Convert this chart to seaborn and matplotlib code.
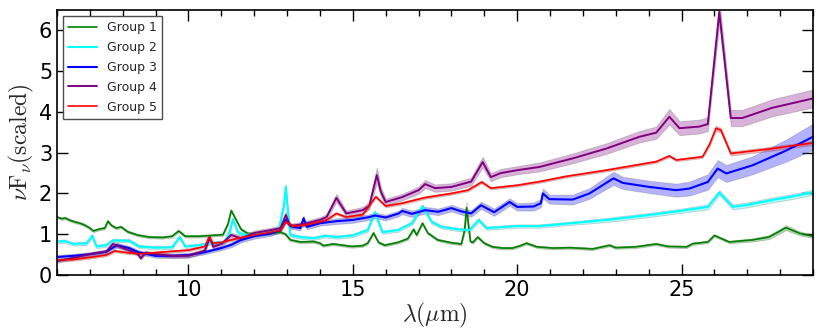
import numpy as np
import pandas as pd
import matplotlib
matplotlib.use("Agg")
import matplotlib.pyplot as plt
from matplotlib.ticker import MultipleLocator
import seaborn as sns

# ---- data ----
x_g1 = [6.0, 6.15, 6.24, 6.4, 6.55, 6.7, 6.85, 7.0, 7.1, 7.3, 7.45, 7.55, 7.65, 7.8, 7.95,
        8.15, 8.45, 8.8, 9.2, 9.5, 9.7, 9.9, 10.3, 10.7, 11.05, 11.2, 11.3, 11.45, 11.6, 11.8,
        12.2, 12.5, 12.8, 12.95, 13.1, 13.4, 13.8, 14.0, 14.1, 14.4, 14.6, 14.97, 15.3, 15.45,
        15.63, 15.78, 15.97, 16.37, 16.67, 16.85, 16.94, 17.12, 17.28, 17.58, 18.0, 18.3, 18.4,
        18.46, 18.52, 18.58, 18.65, 18.8, 19.0, 19.25, 19.55, 19.86, 20.1, 20.28, 20.6, 21.08,
        21.6, 22.3, 22.81, 23.0, 23.6, 24.23, 24.6, 25.15, 25.35, 25.8, 26.0, 26.45, 27.16,
        27.66, 28.18, 28.6, 29.0]
y_g1 = [1.42, 1.38, 1.40, 1.34, 1.30, 1.27, 1.22, 1.15, 1.08, 1.13, 1.15, 1.32, 1.22, 1.15, 1.18,
        1.06, 0.98, 0.93, 0.92, 0.95, 1.08, 0.95, 0.95, 0.97, 0.99, 1.25, 1.58, 1.35, 1.12, 1.02,
        1.00, 1.02, 1.05, 1.00, 0.86, 0.81, 0.82, 0.78, 0.72, 0.76, 0.74, 0.70, 0.72, 0.78,
        1.03, 0.80, 0.73, 0.80, 0.89, 1.12, 0.98, 1.27, 1.03, 0.86, 0.79, 0.76, 1.10,
        1.65, 1.20, 0.82, 0.80, 0.93, 0.78, 0.69, 0.66, 0.66, 0.72, 0.78, 0.69, 0.66,
        0.67, 0.64, 0.73, 0.67, 0.69, 0.76, 0.70, 0.69, 0.77, 0.81, 0.97, 0.81, 0.86,
        0.93, 1.16, 1.02, 0.95]
e_g1 = [0.03] * 56 + [0.08, 0.15, 0.08] + [0.03] * 23 + [0.04, 0.05, 0.06, 0.05, 0.04]

x_g2 = [6.0, 6.24, 6.5, 6.9, 7.07, 7.2, 7.5, 7.7, 8.2, 8.5, 9.0, 9.5, 9.73, 9.9, 10.3, 10.65,
        11.1, 11.25, 11.35, 11.5, 11.7, 12.0, 12.5, 12.75, 12.9, 12.96, 13.02, 13.1, 13.4,
        13.8, 14.15, 14.5, 15.0, 15.45, 15.67, 15.9, 16.37, 16.8, 17.12, 17.4, 17.7, 18.2,
        18.55, 18.83, 19.07, 20.0, 20.68, 21.5, 22.71, 24.0, 25.03, 25.8, 26.15, 26.56, 27.0,
        27.76, 28.4, 29.0]
y_g2 = [0.82, 0.83, 0.76, 0.78, 0.96, 0.70, 0.73, 0.85, 0.84, 0.70, 0.67, 0.68, 0.93, 0.70, 0.73, 0.78,
        0.81, 1.05, 1.37, 1.05, 0.98, 1.00, 1.05, 1.12, 1.70, 2.16, 1.60, 0.98, 0.93,
        0.90, 0.96, 0.93, 0.97, 1.10, 1.54, 1.05, 1.10, 1.27, 1.69, 1.30, 1.18, 1.12,
        1.10, 1.35, 1.15, 1.20, 1.20, 1.26, 1.35, 1.47, 1.58, 1.67, 2.02, 1.67, 1.72,
        1.84, 1.93, 2.03]
e_g2 = [0.04] * 24 + [0.06, 0.07, 0.06] + [0.04] * 21 + [0.05] * 3 + [0.06] * 7

x_g3 = [6.0, 6.5, 7.0, 7.5, 7.82, 8.2, 8.47, 9.0, 9.5, 10.0, 10.5, 11.0, 11.3, 11.6, 12.0, 12.5,
        12.8, 12.96, 13.1, 13.4, 13.5, 13.6, 14.0, 14.5, 15.0, 15.5, 15.67, 16.0, 16.4, 16.5,
        16.8, 17.2, 17.6, 18.0, 18.3, 18.6, 18.9, 19.3, 19.77, 20.0, 20.5, 20.72, 20.78, 20.98,
        21.69, 22.2, 22.93, 23.21, 24.02, 24.84, 25.24, 25.8, 26.1, 26.36, 27.16, 28.18, 29.0]
y_g3 = [0.44, 0.47, 0.51, 0.57, 0.73, 0.66, 0.56, 0.47, 0.47, 0.49, 0.56, 0.66, 0.74, 0.86, 0.95, 1.02,
        1.10, 1.35, 1.20, 1.15, 1.39, 1.18, 1.27, 1.32, 1.35, 1.42, 1.46, 1.41, 1.51, 1.57,
        1.50, 1.59, 1.55, 1.64, 1.56, 1.51, 1.71, 1.54, 1.79, 1.67, 1.68, 1.76, 2.00, 1.86,
        1.85, 2.00, 2.37, 2.26, 2.16, 2.08, 2.12, 2.28, 2.61, 2.49, 2.69, 3.05, 3.39]
e_g3 = [0.05, 0.05, 0.05, 0.05, 0.06, 0.05, 0.05, 0.05, 0.05, 0.05, 0.05, 0.05, 0.06, 0.06, 0.06, 0.06,
        0.06, 0.07, 0.06, 0.06, 0.07, 0.06, 0.06, 0.07, 0.07, 0.07, 0.07, 0.07, 0.07, 0.08,
        0.08, 0.08, 0.08, 0.08, 0.08, 0.08, 0.09, 0.09, 0.09, 0.09, 0.10, 0.10, 0.12, 0.11,
        0.12, 0.13, 0.16, 0.15, 0.15, 0.16, 0.17, 0.19, 0.21, 0.21, 0.22, 0.27, 0.32]

x_g4 = [6.0, 6.5, 7.0, 7.5, 7.7, 8.2, 8.45, 8.55, 8.7, 9.0, 9.5, 10.0, 10.5, 10.65, 10.75, 11.0,
        11.3, 11.6, 12.0, 12.5, 12.8, 12.96, 13.1, 13.5, 14.0, 14.2, 14.5, 14.8, 15.3, 15.5,
        15.73, 15.85, 16.0, 16.5, 17.0, 17.2, 17.5, 18.0, 18.6, 18.95, 19.2, 19.5, 20.0, 20.68,
        21.69, 22.71, 23.72, 24.23, 24.63, 24.94, 25.54, 25.8, 26.15, 26.5, 26.85, 27.76, 29.0]
y_g4 = [0.34, 0.42, 0.51, 0.58, 0.76, 0.60, 0.52, 0.41, 0.55, 0.51, 0.47, 0.47, 0.60, 0.92, 0.69, 0.76,
        0.98, 0.90, 1.03, 1.10, 1.15, 1.47, 1.20, 1.25, 1.35, 1.42, 1.89, 1.51, 1.59, 1.70,
        2.45, 2.05, 1.79, 1.91, 2.08, 2.23, 2.13, 2.16, 2.29, 2.77, 2.40, 2.50, 2.57, 2.65,
        2.86, 3.10, 3.39, 3.49, 3.88, 3.60, 3.64, 3.70, 6.45, 3.85, 3.85, 4.10, 4.33]
e_g4 = [0.04, 0.04, 0.04, 0.04, 0.05, 0.04, 0.04, 0.04, 0.04, 0.05, 0.05, 0.05, 0.05, 0.06, 0.05, 0.05,
        0.06, 0.06, 0.06, 0.06, 0.06, 0.08, 0.06, 0.06, 0.07, 0.07, 0.10, 0.07, 0.08, 0.09,
        0.18, 0.12, 0.08, 0.08, 0.09, 0.10, 0.09, 0.09, 0.10, 0.13, 0.10, 0.10, 0.10, 0.11,
        0.12, 0.13, 0.14, 0.15, 0.19, 0.17, 0.17, 0.17, 0.30, 0.20, 0.20, 0.21, 0.22]

x_g5 = [6.0, 6.5, 7.0, 7.5, 7.76, 8.2, 8.6, 9.0, 9.5, 10.0, 10.5, 10.62, 10.75, 11.0, 11.5, 12.0,
        12.5, 12.8, 12.96, 13.2, 13.5, 14.0, 14.2, 14.5, 14.8, 15.3, 15.7, 16.0, 16.5, 17.0,
        17.2, 18.0, 18.5, 18.92, 19.2, 20.0, 20.68, 21.5, 22.71, 24.23, 24.63, 24.84, 25.64,
        25.85, 26.05, 26.2, 26.5, 27.76, 29.0]
y_g5 = [0.37, 0.38, 0.43, 0.49, 0.59, 0.54, 0.52, 0.55, 0.58, 0.61, 0.70, 0.93, 0.78, 0.80, 0.90, 0.98,
        1.05, 1.10, 1.30, 1.20, 1.22, 1.30, 1.35, 1.51, 1.42, 1.48, 1.92, 1.69, 1.76, 1.86,
        1.90, 2.00, 2.08, 2.28, 2.13, 2.20, 2.29, 2.42, 2.57, 2.78, 2.92, 2.82, 2.90,
        3.20, 3.60, 3.55, 2.98, 3.10, 3.24]
e_g5 = [0.03] * 43 + [0.05, 0.06, 0.06, 0.05, 0.05, 0.05]

groups = ["Group 1", "Group 2", "Group 3", "Group 4", "Group 5"]
colors = ["green", "cyan", "blue", "purple", "red"]
widths = [1.2, 1.5, 1.5, 1.4, 1.2]

frames = []
for name, xs, ys, es in zip(groups,
                            [x_g1, x_g2, x_g3, x_g4, x_g5],
                            [y_g1, y_g2, y_g3, y_g4, y_g5],
                            [e_g1, e_g2, e_g3, e_g4, e_g5]):
    frames.append(pd.DataFrame({"wl": xs, "flux": ys, "err": es, "group": name}))
df = pd.concat(frames, ignore_index=True)

# ---- style ----
sns.set_theme(style="ticks")
plt.rcParams["font.family"] = ["DejaVu Sans"]
plt.rcParams["mathtext.fontset"] = "cm"
plt.rcParams["xtick.direction"] = "in"
plt.rcParams["ytick.direction"] = "in"

fig = plt.figure(figsize=(8.3, 3.32), dpi=100)
ax = fig.add_axes([0.0687, 0.1717, 0.9108, 0.7983])

for name, c, lw in zip(groups, colors, widths):
    d = df[df["group"] == name]
    ax.fill_between(d["wl"], d["flux"] - d["err"], d["flux"] + d["err"],
                    facecolor=c, edgecolor="0.4", alpha=0.3, linewidth=0.7)
    sns.lineplot(data=d, x="wl", y="flux", color=c, lw=lw, label=name, ax=ax,
                 sort=False, errorbar=None)

ax.set_xlim(6, 29)
ax.set_ylim(0, 6.5)
ax.xaxis.set_major_locator(MultipleLocator(5))
ax.xaxis.set_minor_locator(MultipleLocator(1))
ax.yaxis.set_major_locator(MultipleLocator(1))
ax.tick_params(which="both", top=True, right=True, colors="black", labelsize=15)
ax.tick_params(which="major", length=8, width=1)
ax.tick_params(which="minor", length=4, width=1)
for s in ax.spines.values():
    s.set_color("black")
    s.set_linewidth(1.2)

ax.set_xlabel(r"$\lambda(\mu\mathrm{m})$", fontsize=17, labelpad=1)
ax.set_ylabel(r"$\nu\mathrm{F}_{\nu}\mathrm{(scaled)}$", fontsize=17, labelpad=2)

leg = ax.legend(loc="upper left", fontsize=9, fancybox=False, framealpha=1,
                edgecolor="0.3", handlelength=2.3, borderaxespad=0.5, labelspacing=0.55)
leg.get_frame().set_linewidth(1.0)

fig.savefig("out.png", dpi=100)
